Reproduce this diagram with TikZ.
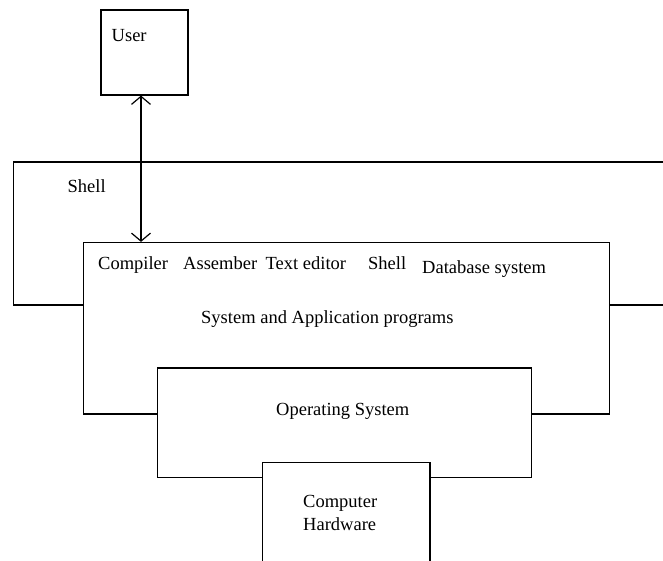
\documentclass[tikz,border=0pt]{standalone}
\usepackage{fontspec}
\setmainfont{Liberation Serif}
\usetikzlibrary{arrows.meta}

\begin{document}
\begin{tikzpicture}[
    x=1pt, y=-1pt,
    box/.style={rectangle, draw=black, line width=1.2pt, fill=white,
        inner sep=0pt},
    lbl/.style={anchor=base west, inner sep=0pt,
        font=\fontsize{18.5}{22}\selectfont},
    biarrow/.style={line width=1.2pt,
        {Straight Barb[length=8pt, width=19pt]}-{Straight Barb[length=8pt, width=19pt]}}
]
    \path[use as bounding box] (0,0) rectangle (663,561);
    \clip (0,0) rectangle (663,561);
    \node[box, minimum width=87pt, minimum height=85pt] (user) at (144.5,52.5) {};
    \node[box, minimum width=686.5pt, minimum height=143pt] (shell) at (356.75,233.5) {};
    \node[box, minimum width=526pt, minimum height=171.5pt] (sys) at (346.5,328.25) {};
    \node[box, minimum width=374pt, minimum height=109.5pt] (os) at (344.5,422.75) {};
    \node[box, minimum width=167.5pt, minimum height=157.5pt] (hw) at (346.25,541.25) {};
    \node[lbl] (usertxt) at (111.5,41.5) {User};
    \node[lbl] (shelltxt) at (67.5,193) {Shell};
    \node[lbl] (compiler) at (98,269) {Compiler};
    \node[lbl] (assember) at (183,269) {Assember};
    \node[lbl] (editor) at (265.5,269) {Text editor};
    \node[lbl] (shellprog) at (368,269) {Shell};
    \node[lbl] (dbsys) at (422,273) {Database system};
    \node[lbl] (systxt) at (201,323) {System and Application programs};
    \node[lbl] (ostxt) at (276,415.5) {Operating System};
    \node[lbl] (comptxt) at (303,507) {Computer};
    \node[lbl] (hwtxt) at (303,530) {Hardware};
    \coordinate (tap) at (141,0);
    \draw[biarrow] (user.south -| tap) -- (sys.north -| tap);
\end{tikzpicture}
\end{document}
